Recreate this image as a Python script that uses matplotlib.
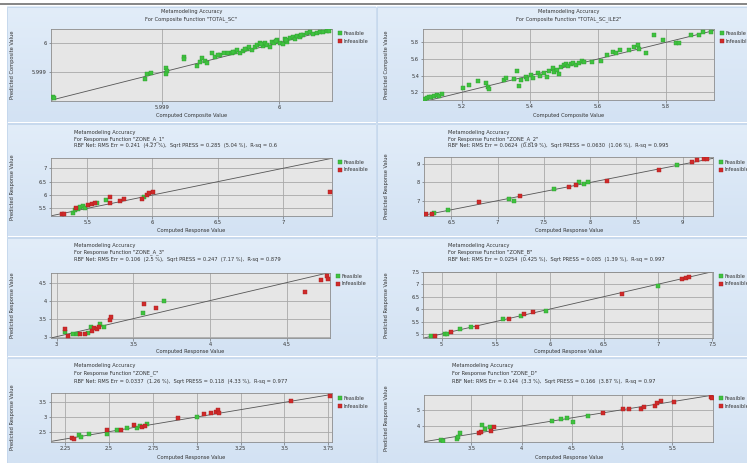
import numpy as np
import matplotlib
matplotlib.use("Agg")
import matplotlib.pyplot as plt
from matplotlib.ticker import FuncFormatter
from matplotlib.lines import Line2D

# ---------------- data ----------------
# TOTAL_SC (all feasible)
p1_feas_x = [5.998071, 5.998085, 5.998858, 5.998872, 5.998909, 5.999034, 5.999043, 5.999037,
             5.999193, 5.999193, 5.999298, 5.999327, 5.999344, 5.999366, 5.999389, 5.999429,
             5.999455, 5.999497, 5.999531, 5.999568, 5.999597, 5.999625, 5.999645, 5.999668,
             5.999696, 5.999724, 5.999747, 5.999767, 5.999795, 5.999815, 5.999838, 5.999861,
             5.999881, 5.999895, 5.999923, 5.999938, 5.999957, 5.999980, 6.000009, 6.000031,
             6.000051, 6.000071, 6.000094, 6.000116, 6.000136, 6.000156, 6.000179, 6.000207,
             6.000236, 6.000264, 6.000293, 6.000321, 6.000349, 6.000378, 6.000406, 6.000429,
             5.999480, 5.999610, 5.999710, 5.999850, 5.999970, 6.000060, 6.000190]
p1_feas_y = [5.998169, 5.998124, 5.998775, 5.998944, 5.998989, 5.999157, 5.999045, 5.998933,
             5.999528, 5.999461, 5.999213, 5.999360, 5.999472, 5.999393, 5.999303, 5.999640,
             5.999528, 5.999584, 5.999640, 5.999663, 5.999640, 5.999697, 5.999753, 5.999663,
             5.999730, 5.999775, 5.999843, 5.999753, 5.999865, 5.999921, 5.999978, 5.999888,
             6.000000, 5.999921, 5.999865, 6.000034, 5.999978, 6.000090, 6.000000, 5.999955,
             6.000112, 6.000034, 6.000146, 6.000202, 6.000112, 6.000225, 6.000180, 6.000270,
             6.000315, 6.000360, 6.000292, 6.000337, 6.000371, 6.000360, 6.000393, 6.000404,
             5.999600, 5.999700, 5.999800, 5.999950, 6.000050, 6.000080, 6.000250]
p1_infeas_x = []
p1_infeas_y = []

# TOTAL_SC_ILE2 (all feasible)
p2_feas_x = [5.091, 5.097, 5.104, 5.111, 5.119, 5.126, 5.133, 5.143, 5.205, 5.222, 5.249, 5.271,
             5.276, 5.281, 5.325, 5.329, 5.354, 5.362, 5.369, 5.373, 5.388, 5.393, 5.402, 5.410,
             5.423, 5.430, 5.442, 5.450, 5.457, 5.467, 5.472, 5.479, 5.486, 5.491, 5.499, 5.506,
             5.511, 5.521, 5.528, 5.535, 5.545, 5.552, 5.560, 5.584, 5.609, 5.628, 5.643, 5.653,
             5.666, 5.692, 5.707, 5.717, 5.721, 5.741, 5.766, 5.790, 5.829, 5.839, 5.872, 5.898,
             5.908, 5.932]
p2_feas_y = [5.116, 5.128, 5.140, 5.148, 5.160, 5.168, 5.160, 5.176, 5.248, 5.288, 5.340, 5.308,
             5.260, 5.236, 5.348, 5.368, 5.356, 5.460, 5.280, 5.348, 5.388, 5.356, 5.408, 5.376,
             5.436, 5.396, 5.428, 5.388, 5.460, 5.488, 5.448, 5.468, 5.420, 5.508, 5.528, 5.540,
             5.516, 5.540, 5.556, 5.528, 5.556, 5.580, 5.568, 5.568, 5.580, 5.648, 5.688, 5.676,
             5.708, 5.708, 5.748, 5.768, 5.716, 5.676, 5.888, 5.828, 5.796, 5.788, 5.888, 5.888,
             5.920, 5.920]
p2_infeas_x = []
p2_infeas_y = []

# ZONE_A_1
p3_feas_x = [5.387, 5.405, 5.431, 5.444, 5.464, 5.482, 5.572, 5.643, 5.935]
p3_feas_y = [5.338, 5.438, 5.463, 5.538, 5.588, 5.500, 5.713, 5.813, 5.938]
p3_infeas_x = [5.303, 5.321, 5.413, 5.508, 5.533, 5.559, 5.674, 5.674, 5.751, 5.782, 5.917,
               5.956, 5.976, 6.002, 7.363]
p3_infeas_y = [5.275, 5.275, 5.500, 5.625, 5.663, 5.688, 5.938, 5.713, 5.788, 5.863, 5.838,
               6.000, 6.063, 6.125, 6.125]

# ZONE_A_2
p4_feas_x = [6.317, 6.460, 7.126, 7.173, 7.612, 7.881, 7.935, 7.978, 8.935]
p4_feas_y = [6.349, 6.495, 7.101, 7.009, 7.651, 8.000, 7.908, 8.000, 8.936]
p4_infeas_x = [6.227, 6.288, 6.802, 7.245, 7.773, 7.845, 8.187, 8.745, 9.104, 9.158, 9.230, 9.266]
p4_infeas_y = [6.257, 6.257, 6.954, 7.266, 7.743, 7.872, 8.055, 8.697, 9.119, 9.211, 9.303, 9.303]

# ZONE_A_3
p5_feas_x = [3.054, 3.104, 3.130, 3.207, 3.222, 3.283, 3.309, 3.565, 3.702]
p5_feas_y = [3.138, 3.064, 3.073, 3.092, 3.275, 3.349, 3.275, 3.670, 3.982]
p5_infeas_x = [3.054, 3.076, 3.152, 3.185, 3.228, 3.243, 3.261, 3.278, 3.348, 3.352, 3.570,
               3.648, 4.620, 4.722, 4.761, 4.772]
p5_infeas_y = [3.202, 3.018, 3.073, 3.073, 3.156, 3.229, 3.202, 3.275, 3.459, 3.532, 3.899,
               3.807, 4.239, 4.560, 4.697, 4.606]

# ZONE_B
p6_feas_x = [4.905, 5.028, 5.046, 5.169, 5.274, 5.569, 5.729, 5.960, 6.997]
p6_feas_y = [4.920, 5.000, 5.000, 5.187, 5.294, 5.588, 5.735, 5.936, 6.925]
p6_infeas_x = [4.938, 5.089, 5.323, 5.622, 5.760, 5.846, 6.668, 7.222, 7.252, 7.283]
p6_infeas_y = [4.920, 5.067, 5.294, 5.615, 5.789, 5.869, 6.604, 7.193, 7.233, 7.299]

# ZONE_C
p7_feas_x = [2.330, 2.340, 2.387, 2.491, 2.545, 2.605, 2.662, 2.677, 2.719, 3.004]
p7_feas_y = [2.375, 2.330, 2.432, 2.409, 2.557, 2.636, 2.636, 2.693, 2.750, 3.000]
p7_infeas_x = [2.292, 2.298, 2.491, 2.567, 2.643, 2.691, 2.704, 2.894, 3.042, 3.083, 3.108,
               3.121, 3.127, 3.535, 3.759]
p7_infeas_y = [2.295, 2.261, 2.557, 2.545, 2.716, 2.670, 2.693, 2.955, 3.091, 3.148, 3.170,
               3.239, 3.125, 3.545, 3.716]

# ZONE_D
p8_feas_x = [3.199, 3.222, 3.354, 3.364, 3.387, 3.609, 3.636, 3.685, 4.305, 4.397, 4.457,
             4.513, 4.656]
p8_feas_y = [3.133, 3.092, 3.174, 3.339, 3.585, 4.059, 3.791, 3.915, 4.305, 4.429, 4.470,
             4.264, 4.635]
p8_infeas_x = [3.576, 3.596, 3.695, 3.728, 4.811, 5.010, 5.066, 5.192, 5.219, 5.325, 5.351,
               5.384, 5.517, 5.887, 5.894]
p8_infeas_y = [3.544, 3.647, 3.709, 3.915, 4.820, 5.025, 5.025, 5.025, 5.149, 5.231, 5.396,
               5.560, 5.457, 5.807, 5.704]

titles = [
    ["Metamodeling Accuracy", 'For Composite Function "TOTAL_SC"'],
    ["Metamodeling Accuracy", 'For Composite Function "TOTAL_SC_ILE2"'],
    ["Metamodeling Accuracy", 'For Response Function "ZONE_A_1"',
     "RBF Net: RMS Err = 0.241  (4.27 %),  Sqrt PRESS = 0.285  (5.04 %),  R-sq = 0.6"],
    ["Metamodeling Accuracy", 'For Response Function "ZONE_A_2"',
     "RBF Net: RMS Err = 0.0624  (0.819 %),  Sqrt PRESS = 0.0630  (1.06 %),  R-sq = 0.995"],
    ["Metamodeling Accuracy", 'For Response Function "ZONE_A_3"',
     "RBF Net: RMS Err = 0.106  (2.5 %),  Sqrt PRESS = 0.247  (7.17 %),  R-sq = 0.879"],
    ["Metamodeling Accuracy", 'For Response Function "ZONE_B"',
     "RBF Net: RMS Err = 0.0254  (0.425 %),  Sqrt PRESS = 0.085  (1.39 %),  R-sq = 0.997"],
    ["Metamodeling Accuracy", 'For Response Function "ZONE_C"',
     "RBF Net: RMS Err = 0.0337  (1.26 %),  Sqrt PRESS = 0.118  (4.33 %),  R-sq = 0.977"],
    ["Metamodeling Accuracy", 'For Response Function "ZONE_D"',
     "RBF Net: RMS Err = 0.144  (3.3 %),  Sqrt PRESS = 0.166  (3.87 %),  R-sq = 0.97"],
]

x_ticks = [[5.999, 6.0], [5.2, 5.4, 5.6, 5.8], [5.5, 6, 6.5, 7], [6.5, 7, 7.5, 8, 8.5, 9],
           [3, 3.5, 4, 4.5], [5, 5.5, 6, 6.5, 7, 7.5],
           [2.25, 2.5, 2.75, 3, 3.25, 3.5, 3.75], [3.5, 4, 4.5, 5, 5.5]]
y_ticks = [[5.999, 6.0], [5.2, 5.4, 5.6, 5.8], [5.5, 6, 6.5, 7], [7, 8, 9],
           [3, 3.5, 4, 4.5], [5, 5.5, 6, 6.5, 7, 7.5], [2.5, 3, 3.5], [4, 5]]
x_lims = [(5.998054, 6.000449), (5.087, 5.941), (5.2185, 7.376), (6.205, 9.331),
          (2.961, 4.783), (4.831, 7.508), (2.168, 3.769), (3.03, 5.907)]
y_lims = [(5.99804, 6.000453), (5.108, 5.956), (5.225, 7.40), (6.174, 9.385),
          (2.954, 4.775), (4.826, 7.50), (2.159, 3.807), (3.03, 5.91)]

feas = [(p1_feas_x, p1_feas_y), (p2_feas_x, p2_feas_y), (p3_feas_x, p3_feas_y),
        (p4_feas_x, p4_feas_y), (p5_feas_x, p5_feas_y), (p6_feas_x, p6_feas_y),
        (p7_feas_x, p7_feas_y), (p8_feas_x, p8_feas_y)]
infeas = [(p1_infeas_x, p1_infeas_y), (p2_infeas_x, p2_infeas_y), (p3_infeas_x, p3_infeas_y),
          (p4_infeas_x, p4_infeas_y), (p5_infeas_x, p5_infeas_y), (p6_infeas_x, p6_infeas_y),
          (p7_infeas_x, p7_infeas_y), (p8_infeas_x, p8_infeas_y)]

# ---------------- layout (pixels) ----------------
W, H = 747, 463
fig = plt.figure(figsize=(W / 100, H / 100), dpi=100)
fig.patch.set_facecolor("white")

def frac(l, t, r, b):
    return [l / W, 1 - b / H, (r - l) / W, (b - t) / H]

bg = fig.add_axes([0, 0, 1, 1], zorder=-5)
bg.set_xlim(0, W)
bg.set_ylim(H, 0)
bg.axis("off")
bg.plot([0, W], [3.6, 3.6], color="#7c7c7c", lw=1.3, solid_capstyle="butt")

cols = [(7, 375.5), (377, 747)]
rows = [(7, 122.5), (124, 236.5), (238, 356.5), (358, 463)]
top_c = np.array([226, 237, 249]) / 255
bot_c = np.array([211, 226, 243]) / 255
t = np.linspace(0, 1, 80)[:, None, None]
grad = top_c[None, None, :] * (1 - t) + bot_c[None, None, :] * t
for (x0, x1) in cols:
    for (y0, y1) in rows:
        bg.imshow(grad, extent=(x0, x1, y1, y0), aspect="auto", interpolation="bilinear")
        bg.add_patch(plt.Rectangle((x0, y0), x1 - x0, y1 - y0, fill=False,
                                   ec="#c3d6ec", lw=0.6))
bg.set_xlim(0, W)
bg.set_ylim(H, 0)

ax_px = [(50.7, 29.3, 331.7, 100.7), (423.3, 29.3, 714, 100),
         (50.7, 157.7, 331.7, 215.7), (424, 157.3, 713.3, 215.7),
         (50.7, 272.7, 330, 338.3), (423.3, 271.7, 713.3, 338.3),
         (50.7, 393.3, 331.7, 441.7), (424, 395, 713.3, 441.7)]
title_y = [(12, 19), (12, 19), (132.3, 139, 145.7), (132.3, 139, 145.7),
           (245, 251.7, 259), (245, 251.7, 259), (366, 373.5, 381), (366, 373.5, 381)]
title_x = [None, None, 74, 448, 74, 448, 74, 452]
xlabel_y = [116, 116, 231, 231, 352, 352, 457, 457]
legend_y = [31, 31, 159.5, 159.5, 273.5, 273.5, 396, 396]

fs = 3.7
green = "#3fc23f"
red = "#d02a2a"
fmt = FuncFormatter(lambda v, p: "{:g}".format(round(v, 6)))

for i in range(8):
    l, tp, r, b = ax_px[i]
    ax = fig.add_axes(frac(l, tp, r, b))
    ax.set_facecolor("#e6e6e6")
    ax.set_xlim(*x_lims[i])
    ax.set_ylim(*y_lims[i])
    ax.set_xticks(x_ticks[i])
    ax.set_yticks(y_ticks[i])
    ax.xaxis.set_major_formatter(fmt)
    ax.yaxis.set_major_formatter(fmt)
    ax.tick_params(labelsize=fs, length=1.8, width=0.4, pad=1.2, colors="#555555",
                   labelcolor="#333333")
    ax.grid(True, color="#a8a8a8", lw=0.6)
    ax.set_axisbelow(True)
    for s in ax.spines.values():
        s.set_color("#8c8c8c")
        s.set_linewidth(0.6)
    lo = min(x_lims[i][0], y_lims[i][0])
    hi = max(x_lims[i][1], y_lims[i][1])
    ax.plot([lo, hi], [lo, hi], color="#555555", lw=0.6, zorder=2)
    fx, fy = feas[i]
    ix, iy = infeas[i]
    ax.scatter(fx, fy, s=10, marker="s", color=green, edgecolors="#2f9a2f",
               linewidths=0.3, zorder=3)
    if len(ix):
        ax.scatter(ix, iy, s=10, marker="s", color=red, edgecolors="#a82020",
                   linewidths=0.3, zorder=3)

    # titles
    cx = (l + r) / 2 if title_x[i] is None else title_x[i]
    ha = "center" if title_x[i] is None else "left"
    for line, yy in zip(titles[i], title_y[i]):
        fig.text(cx / W, 1 - yy / H, line, ha=ha, va="center", fontsize=fs,
                 color="#333333")

    # axis labels
    composite = i < 2
    xl = "Computed Composite Value" if composite else "Computed Response Value"
    yl = "Predicted Composite Value" if composite else "Predicted Response Value"
    fig.text(((l + r) / 2) / W, 1 - xlabel_y[i] / H, xl, ha="center", va="center",
             fontsize=fs, color="#333333")
    ylx = 12.5 if i % 2 == 0 else 386.5
    fig.text(ylx / W, 1 - ((tp + b) / 2) / H, yl, ha="center", va="center",
             rotation=90, fontsize=fs, color="#333333")

    # legend
    handles = [Line2D([], [], ls="none", marker="s", ms=2.8, color=green,
                      mec="#2f9a2f", mew=0.3, label="Feasible"),
               Line2D([], [], ls="none", marker="s", ms=2.8, color=red,
                      mec="#a82020", mew=0.3, label="Infeasible")]
    lx = (r + 6) / W
    ax.legend(handles=handles, loc="upper left", bbox_to_anchor=(lx, 1 - legend_y[i] / H),
              bbox_transform=fig.transFigure, fontsize=fs, frameon=False,
              handlelength=0.8, handletextpad=0.3, labelspacing=0.55,
              borderaxespad=0, borderpad=0, labelcolor="#333333")

fig.savefig("out.png", dpi=100)
